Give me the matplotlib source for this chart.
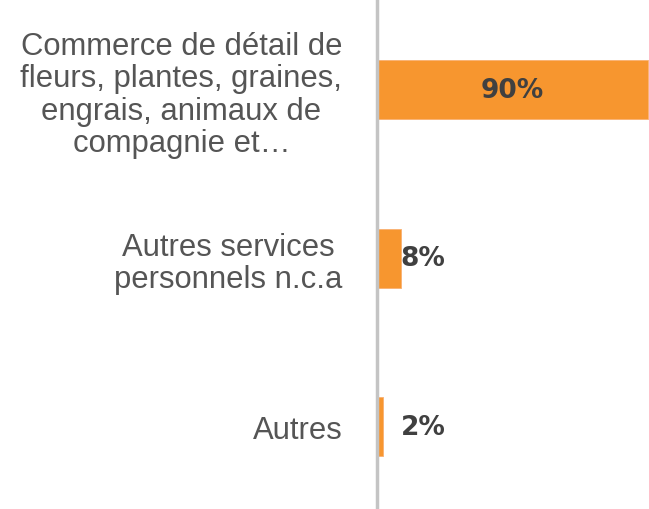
import matplotlib.pyplot as plt

# data
categories = ['Commerce de détail de\nfleurs, plantes, graines,\nengrais, animaux de\ncompagnie et…',
              'Autres services\npersonnels n.c.a',
              'Autres']
values = [90, 8, 2]
value_labels = ['90%', '8%', '2%']

fig = plt.figure(figsize=(6.49, 5.10), dpi=100)
ax = fig.add_axes([0.581, 0.0, 0.419, 1.0])

ypos = list(range(len(categories)))
ax.barh(ypos, values, height=0.35, color='#F7962F', edgecolor='#F9B071', linewidth=0.6)

ax.set_xlim(0, 90.3)
ax.set_ylim(2.49, -0.54)

for s in ['top', 'right', 'bottom']:
    ax.spines[s].set_visible(False)
ax.spines['left'].set_color('#C4C4C4')
ax.spines['left'].set_linewidth(2.5)
ax.set_xticks([])
ax.set_yticks(ypos)
ax.set_yticklabels(categories, fontsize=22.3, color='#555555', family='Liberation Sans',
                   multialignment='center', linespacing=1.1)
ax.tick_params(axis='y', length=0, pad=25)

# value labels: inside for the big bar, just right of the axis for the small ones
for y, v, lab in zip(ypos, values, value_labels):
    if v > 20:
        ax.text(v / 2, y, lab, ha='center', va='center', fontsize=19,
                fontweight='bold', color='#404040')
    else:
        ax.text(7.8, y, lab, ha='left', va='center', fontsize=19,
                fontweight='bold', color='#404040')

fig.savefig('out.png', dpi=100)
